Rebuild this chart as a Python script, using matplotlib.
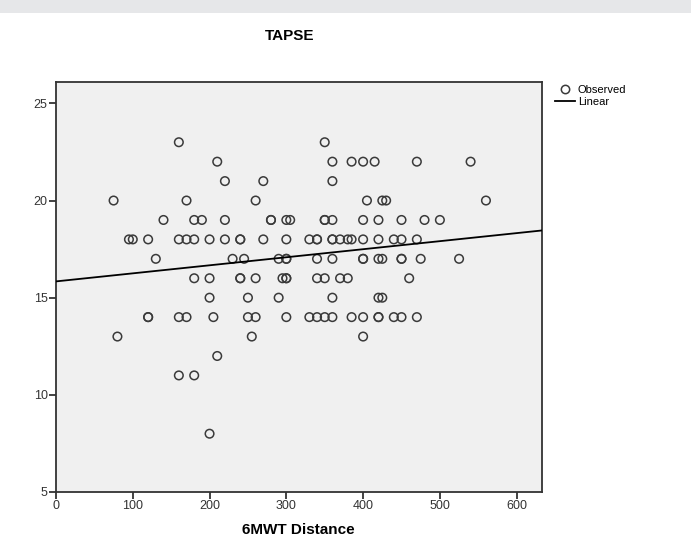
import numpy as np
import matplotlib
matplotlib.use("Agg")
import matplotlib.pyplot as plt
from matplotlib.lines import Line2D

# Observed points grouped by TAPSE value
tapse_23 = [160, 350]
tapse_22 = [210, 360, 385, 400, 415, 470, 540]
tapse_21 = [220, 270, 360]
tapse_20 = [75, 170, 260, 405, 425, 430, 560]
tapse_19 = [140, 180, 190, 220, 280, 280, 300, 305, 350, 350, 360, 400, 420, 450, 480, 500]
tapse_18 = [95, 100, 120, 160, 170, 180, 200, 220, 240, 240, 270, 300, 330, 340, 340,
            360, 360, 370, 380, 385, 400, 420, 440, 450, 470]
tapse_17 = [130, 230, 245, 290, 300, 300, 340, 360, 400, 400, 420, 425, 450, 450, 475, 525]
tapse_16 = [180, 200, 240, 240, 260, 295, 300, 300, 340, 350, 370, 380, 460]
tapse_15 = [200, 250, 290, 360, 420, 425]
tapse_14 = [120, 120, 160, 170, 205, 250, 260, 300, 330, 340, 350, 360, 385, 400,
            420, 420, 440, 450, 470]
tapse_13 = [80, 255, 400]
tapse_12 = [210]
tapse_11 = [160, 180]
tapse_8 = [200]

groups = {23: tapse_23, 22: tapse_22, 21: tapse_21, 20: tapse_20, 19: tapse_19,
          18: tapse_18, 17: tapse_17, 16: tapse_16, 15: tapse_15, 14: tapse_14,
          13: tapse_13, 12: tapse_12, 11: tapse_11, 8: tapse_8}

x_vals = np.array([d for t, ds in groups.items() for d in ds], dtype=float)
y_vals = np.array([t for t, ds in groups.items() for d in ds], dtype=float)

x_ticks = [0, 100, 200, 300, 400, 500, 600]
y_ticks = [5, 10, 15, 20, 25]

plt.rcParams['font.family'] = ['Liberation Sans', 'DejaVu Sans']

fig = plt.figure(figsize=(6.91, 5.45), dpi=100)
fig.patch.set_facecolor('white')
# top gray band
fig.add_artist(plt.Rectangle((0, 1 - 13 / 545), 1, 13 / 545, transform=fig.transFigure,
                             facecolor='#e6e7e9', edgecolor='none'))

ax = fig.add_axes([56 / 691, 1 - 492 / 545, (542 - 56) / 691, (492 - 82) / 545])
ax.set_facecolor('#f0f0f0')

xmin, xmax = 0, 633
ymin, ymax = 5, 26.1
ax.set_xlim(xmin, xmax)
ax.set_ylim(ymin, ymax)

ax.scatter(x_vals, y_vals, s=38, facecolors='none', edgecolors='#3a3a3a', linewidths=1.1, zorder=3)

slope, intercept = np.polyfit(x_vals, y_vals, 1)
xl = np.array([xmin, xmax])
ax.plot(xl, intercept + slope * xl, color='black', lw=1.3, zorder=4)

ax.set_xticks(x_ticks)
ax.set_yticks(y_ticks)
ax.tick_params(axis='both', direction='out', length=5, width=1.3, color='#333333',
               labelsize=9, labelcolor='#333333', pad=1)
for s in ['left', 'bottom', 'right', 'top']:
    ax.spines[s].set_color('#333333')
    ax.spines[s].set_linewidth(1.3)

fig.text(290 / 691, 1 - 36 / 545, 'TAPSE', ha='center', va='center',
         fontsize=11, fontweight='bold')
fig.text(298 / 691, 1 - 530 / 545, '6MWT Distance', ha='center', va='center',
         fontsize=11, fontweight='bold')

handles = [Line2D([], [], marker='o', ls='none', markerfacecolor='none',
                  markeredgecolor='#3a3a3a', markersize=6, markeredgewidth=1.1),
           Line2D([], [], color='black', lw=1.3)]
leg = fig.legend(handles, ['Observed', 'Linear'], loc='upper left',
                 bbox_to_anchor=(555 / 691, 1 - 85 / 545), frameon=False,
                 fontsize=8, handlelength=1.8, handletextpad=0.25, labelspacing=0.15,
                 borderaxespad=0, borderpad=0)

fig.savefig('out.png', dpi=100)
